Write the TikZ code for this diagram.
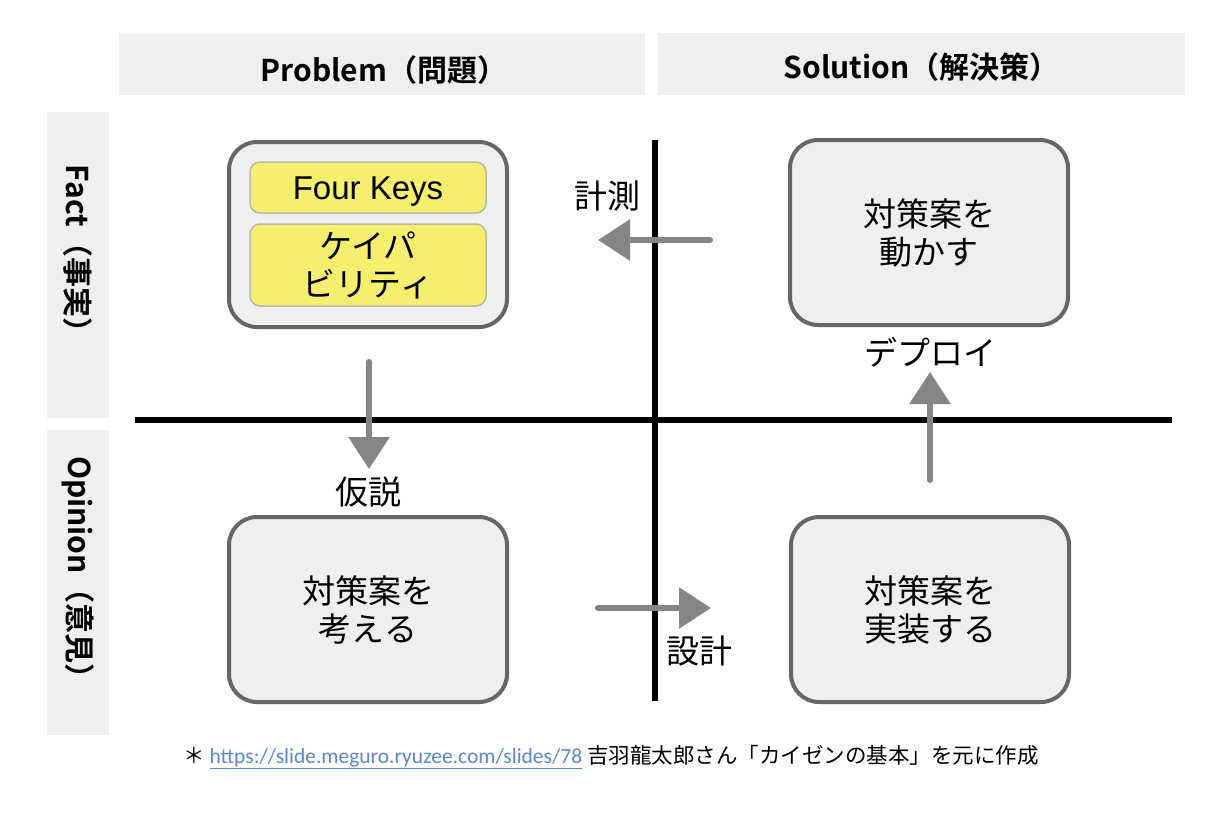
\documentclass[tikz,border=0pt]{standalone}
\usepackage{fontspec}
\setmainfont{Noto Sans CJK JP}[BoldFont={Noto Sans CJK JP Bold}]
\newfontfamily\arialf{Liberation Sans}
\newfontfamily\calibrif{Carlito}
\usetikzlibrary{arrows.meta}
\definecolor{bandgray}{HTML}{EFEFEF}
\definecolor{boxfill}{HTML}{EFEFEF}
\definecolor{boxline}{HTML}{666666}
\definecolor{arrowgray}{HTML}{858585}
\definecolor{yel}{HTML}{F6EF6E}
\definecolor{yelline}{HTML}{B8B8A8}
\definecolor{linkblue}{HTML}{5B87D6}
\tikzset{
  band/.style={fill=bandgray, draw=none, inner sep=0pt},
  bigbox/.style={draw=boxline, line width=4pt, fill=boxfill, rounded corners=28pt,
    minimum width=278pt, minimum height=185pt, align=center, inner sep=0pt,
    font=\fontsize{33pt}{38pt}\selectfont},
  yelbox/.style={draw=yelline, line width=1.5pt, fill=yel, rounded corners=10pt,
    minimum width=236pt, align=center, inner sep=0pt},
  flow/.style={draw=arrowgray, line width=6pt, line cap=round,
    -{Triangle[length=32pt,width=40pt]}, shorten >=0pt},
  axis/.style={draw=black, line width=6pt},
  lbl/.style={font=\fontsize{33pt}{38pt}\selectfont, inner sep=0pt},
  head/.style={font=\bfseries\fontsize{30pt}{34pt}\selectfont, inner sep=0pt},
}
\begin{document}
\begin{tikzpicture}[x=1pt,y=-1pt]
\useasboundingbox (0,0) rectangle (1232,812);
\fill[white] (0,0) rectangle (1232,812);
% header bands
\node[band, minimum width=526pt, minimum height=61pt] (hp) at (382,64.5) {};
\node[band, minimum width=527pt, minimum height=62pt] (hs) at (921.5,64) {};
\node[head] (hpt) at (384,70) {Problem（問題）};
\node[head] (hst) at (921.5,67) {Solution（解決策）};
% side bands
\node[band, minimum width=62pt, minimum height=306pt] (sf) at (78,265) {};
\node[band, minimum width=62pt, minimum height=305pt] (so) at (78,582.5) {};
\node[head, rotate=-90] (sft) at (78,256) {Fact（事実）};
\node[head, rotate=-90] (sot) at (78,575) {Opinion（意見）};
% axes
\coordinate (axl) at (135,420);
\coordinate (axr) at (1172,420);
\coordinate (axt) at (655,140);
\coordinate (axb) at (655,701);
\draw[axis] (axl) -- (axr);
\draw[axis] (axt) -- (axb);
% boxes
\node[bigbox] (tl) at (368,234.5) {};
\node[yelbox, minimum height=51pt] (fk) at (368,187.5) {};
\node[inner sep=0pt, font=\arialf\fontsize{33pt}{38pt}\selectfont] (fkt) at (368,191.5) {Four Keys};
\node[yelbox, minimum height=82pt, font=\fontsize{33pt}{38pt}\selectfont] (cap) at (368,265) {ケイパ\\ビリティ};
\node[bigbox] (tr) at (929,232.5) {対策案を\\動かす};
\node[bigbox] (bl) at (368,609.5) {対策案を\\考える};
\node[bigbox] (br) at (930,609.5) {対策案を\\実装する};
% arrows
\coordinate (a1s) at (710,240); \coordinate (a1e) at (598,240);
\coordinate (a2s) at (369,362); \coordinate (a2e) at (369,469);
\coordinate (a3s) at (598,608); \coordinate (a3e) at (711,608);
\coordinate (a4s) at (930,480); \coordinate (a4e) at (930,372);
\draw[flow] (a1s) -- (a1e);
\draw[flow] (a2s) -- (a2e);
\draw[flow] (a3s) -- (a3e);
\draw[flow] (a4s) -- (a4e);
% labels
\node[lbl] (l1) at (607,196) {計測};
\node[lbl] (l2) at (368,492) {仮説};
\node[lbl] (l3) at (699,651) {設計};
\node[lbl] (l4) at (930,352) {デプロイ};
% footer
\node[anchor=west, inner sep=0pt, font=\fontsize{21.5pt}{25pt}\selectfont] (foot) at (183,757)
  {＊ {\calibrif\color{linkblue}\underline{https://slide.meguro.ryuzee.com/slides/78}} 吉羽龍太郎さん「カイゼンの基本」を元に作成};
\end{tikzpicture}
\end{document}
